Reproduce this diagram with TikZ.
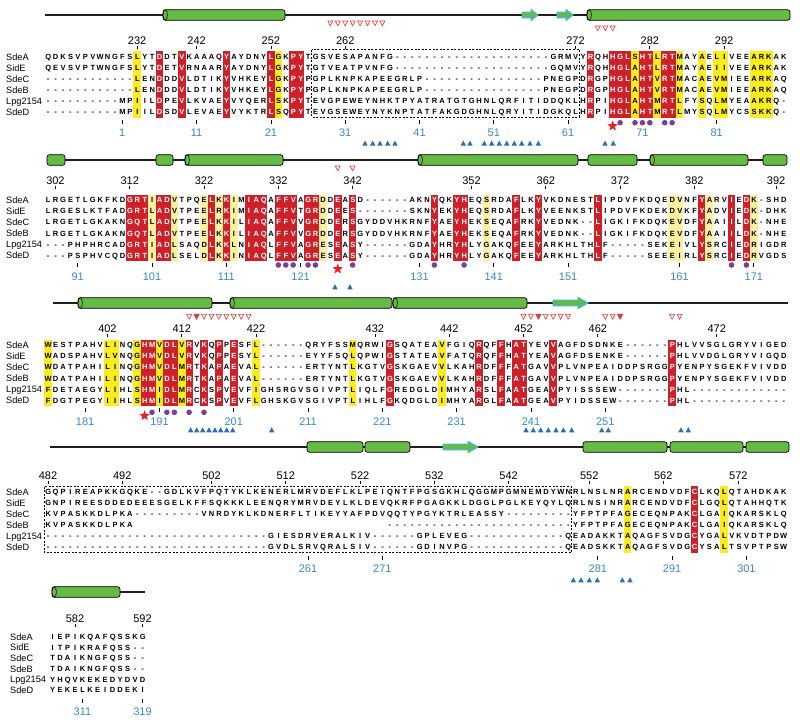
\documentclass[tikz,border=0pt]{standalone}
\usepackage{fontspec}
\setmainfont{Liberation Sans}
\usetikzlibrary{shapes.geometric}
\definecolor{rbox}{HTML}{CE2029}
\definecolor{ybox}{HTML}{FAEC1E}
\definecolor{pbox}{HTML}{FBF0A0}
\definecolor{hgreen}{HTML}{66BB44}
\definecolor{scyan}{HTML}{3FB5E5}
\definecolor{numblue}{HTML}{3B87C4}
\definecolor{tblue}{HTML}{2A6EB8}
\definecolor{dpurple}{HTML}{7B3F98}
\definecolor{tred}{HTML}{E53935}
\definecolor{sred}{HTML}{E8202A}
\definecolor{lineg}{HTML}{1E1E1E}
\newdimen\colw \colw=7.43pt
\newcount\colc
\def\seqline#1{\colc=0 \seqnext#1\relax}
\def\seqnext#1{\ifx#1\relax\else\advance\colc by 1 \seqchar{#1}\expandafter\seqnext\fi}
\def\seqchar#1{\makebox[\colw][c]{\ifcsname rd@\blk @\the\colc\endcsname\color{white}\fi\ifx#1.\else#1\fi}}
\def\blk{1}
\newcommand\regred[2]{\foreach \c in #2{\expandafter\gdef\csname rd@#1@\c\endcsname{}}}
\def\rA{16,19,25,31,34,35,74,77,78,79,81,82,84,85}
\def\yA{13,32,80,83,86,89,91,92,96,97,98}
\def\rB{12,13,14,16,17,23,25,28,29,30,32,33,34,36,37,40,42,53,56,57,64,67,75,89,93,95}
\def\yB{15,18,22,24,26,38,60,85,86,90,96}
\def\rC{14,15,17,18,20,22,24,26,47,59,62,64,65,69,85}
\def\yC{1,9,10,13,16,19,29,42,54}
\def\rD{88}
\def\yD{79,92}
\regred{1}{\rA}
\regred{2}{\rB}
\regred{3}{\rC}
\regred{4}{\rD}
\def\X#1{(48+(#1-1)*7.43)}
\def\Xf#1{(52.5+(#1-1)*7.5)}
\newcommand\hl[4]{\foreach \c in #4{\fill[#3] ({48+(\c-1)*7.43-3.8},#1) rectangle ({48+(\c-1)*7.43+3.8},#2);}}
\newcommand\cyl[3]{\draw[cylst] ({#1},{#3-5.3}) rectangle ({#2},{#3+5.3}); \draw[capst] ({#1+2.2},{#3}) ellipse (2.2pt and 5.3pt);}
\newcommand\boxh[3]{\draw[cylst] ({#1},{#3-5.3}) rectangle ({#2},{#3+5.3});}
\newcommand\strand[4]{\draw[strst] ({#1},{#3-2.8}) -- ({#2-#4},{#3-2.8}) -- ({#2-#4},{#3-5.6}) -- ({#2},{#3}) -- ({#2-#4},{#3+5.6}) -- ({#2-#4},{#3+2.8}) -- ({#1},{#3+2.8}) -- cycle;}
\newcommand\rtri[2]{\draw[rtrist] ({#1-2.5},{#2-2.3}) -- ({#1+2.5},{#2-2.3}) -- ({#1},{#2+2.5}) -- cycle;}
\newcommand\rtrif[2]{\filldraw[rtrifst] ({#1-2.7},{#2-2.5}) -- ({#1+2.7},{#2-2.5}) -- ({#1},{#2+2.7}) -- cycle;}
\newcommand\btri[2]{\fill[btrist] ({#1-2.7},{#2+2.3}) -- ({#1+2.7},{#2+2.3}) -- ({#1},{#2-2.7}) -- cycle;}
\newcommand\pdot[2]{\fill[dotst] ({#1},{#2}) circle (2.8pt);}
\newcommand\knum[4]{\node[knumst] (#1) at ({#2},{#3}) {#4}; \draw[tickst] ({#2},{#3+5.5}) -- ({#2},{#3+9});}
\newcommand\bnum[4]{\draw[tickst] ({#2},{#3-12.7}) -- ({#2},{#3-8.7}); \node[bnumst] (#1) at ({#2},{#3}) {#4};}
\newcommand\names[3]{% prefix, x, base y (spacing 11.1)
  \node[namest] (#1a) at (#2,{#3}) {SdeA};
  \node[namest] (#1b) at (#2,{#3+11.1}) {SidE};
  \node[namest] (#1c) at (#2,{#3+22.2}) {SdeC};
  \node[namest] (#1d) at (#2,{#3+33.3}) {SdeB};
  \node[namest] (#1e) at (#2,{#3+44.4}) {Lpg2154};
  \node[namest] (#1f) at (#2,{#3+55.5}) {SdeD};}
\tikzset{
 seqst/.style={anchor=west,inner sep=0pt,font=\fontsize{7.5}{7.5}\selectfont\bfseries,text height=5.4pt,text depth=0pt},
 namest/.style={anchor=west,inner sep=0pt,font=\fontsize{9.2}{9.2}\selectfont,text height=6.6pt,text depth=0pt},
 knumst/.style={inner sep=0pt,font=\fontsize{11}{11}\selectfont,text height=8pt,text depth=0pt},
 bnumst/.style={inner sep=0pt,font=\fontsize{11}{11}\selectfont,text height=8pt,text depth=0pt,text=numblue},
 tickst/.style={line width=0.8pt,draw=black},
 ssline/.style={line width=1.5pt,draw=lineg},
 cylst/.style={fill=hgreen,draw=black,line width=0.7pt,rounded corners=2.5pt},
 capst/.style={fill=hgreen,draw=black,line width=0.6pt},
 strst/.style={fill=hgreen,draw=scyan,line width=1pt,line join=miter},
 rtrist/.style={draw=tred,fill=white,line width=0.6pt},
 rtrifst/.style={fill=tred,draw=tred,line width=0.5pt},
 btrist/.style={fill=tblue},
 dotst/.style={fill=dpurple},
 starst/.style={star,star points=5,star point ratio=2.4,fill=sred,inner sep=0pt,minimum size=11pt},
 dbox/.style={draw=black,line width=0.7pt,dash pattern=on 2pt off 1.6pt}
}
\begin{document}
\begin{tikzpicture}[x=1pt,y=-1pt]
\useasboundingbox (0,0) rectangle (800,723);
% ================= secondary structure =================
\draw[ssline] (45,15) -- (786,15);
\cyl{163}{285}{15}
\strand{522}{538}{15}{7}
\strand{557}{573}{15}{7}
\cyl{587}{790}{15}
\draw[ssline] (47,160) -- (787,160);
\boxh{47}{65}{160} \boxh{156}{173}{160} \cyl{185}{283}{160} \cyl{418}{578}{160}
\boxh{588}{637}{160} \cyl{650}{748}{160} \boxh{763}{787}{160}
\draw[ssline] (53,303) -- (788,303);
\cyl{78}{212}{303} \cyl{230}{392}{303} \cyl{393}{527}{303}
\strand{553}{588}{303}{10}
\draw[ssline] (50,447) -- (789,447);
\boxh{307}{363}{447} \boxh{365}{410}{447}
\strand{443}{478}{447}{10}
\boxh{583}{667}{447} \boxh{670}{743}{447} \boxh{746}{789}{447}
\draw[ssline] (118,592) -- (145,592);
\cyl{52}{120}{592}
% ================= red triangles =================
\foreach \c in {39,...,46} {\rtri{\X{\c}}{23.3}}
\foreach \c in {75,76,77} {\rtri{\X{\c}}{28.3}}
\foreach \c in {40,42} {\rtri{\X{\c}}{168.3}}
\foreach \c in {20,22,23,24,25,26,27,28,65,66,68,69,70,71,76,77,85,86} {\rtri{\X{\c}}{316.7}}
\foreach \c in {21,67,78} {\rtrif{\X{\c}}{316.7}}
% ================= highlight boxes =================
\hl{51.2}{117.7}{rbox}{\rA}
\hl{51.2}{117.7}{ybox}{\yA}
\hl{194.5}{261}{rbox}{\rB}
\hl{194.5}{261}{pbox}{\yB}
\hl{339.5}{406}{rbox}{\rC}
\hl{339.5}{406}{ybox}{\yC}
\hl{486.2}{552.7}{rbox}{\rD}
\hl{486.2}{552.7}{ybox}{\yD}
% dashed boxes
\draw[dbox] ({\X{36.5}},49.5) rectangle ({\X{72.5}},117);
\draw[dbox] ({\X{0.5}},486.5) rectangle ({\X{71.5}},552.5);
% ================= block 1 =================
\names{n1}{6}{56.7}
\def\blk{1}
\node[seqst] (s1a) at (44.3,56.7) {\seqline{QDKSVPVWNGFSLYTDDTVKAAAQYAYDNYLGKPYTGSVESAPANFG---------------------GRMVYRQHHGLSHTLRTMAYAELIVEEARKAK}};
\node[seqst] (s1b) at (44.3,67.8) {\seqline{QEVSVPTWNGFSLYTDETVRNAARYAYDNYLGKPYTGTVEATPVNFG---------------------GQMVYRQHHGLAHTLRTMAYAEIIVEEARKAK}};
\node[seqst] (s1c) at (44.3,78.9) {\seqline{------------LENDDDVLDTIKYVHKEYLGKPYPGPLKNPKAPEEGRLP----------------PNEGPDRGPHGLAHTVRTMACAEVMIEEARKAQ}};
\node[seqst] (s1d) at (44.3,90.0) {\seqline{------------LENDDDVLDTIKYVHKEYLGKPYPGPLKNPKAPEEGRLP----------------PNEGPDRGPHGLAHTVRTMACAEVMIEEARKAQ}};
\node[seqst] (s1e) at (44.3,101.1) {\seqline{----------MPIILDPEVLKVAEYVYQERLSKPYTEVGPEWEYNHKTPYATRATGTGHNLQRFITIDDQKLHRPIHGLAHTMRTLFYSQLMYEAAKRQ-}};
\node[seqst] (s1f) at (44.3,112.2) {\seqline{----------MPIILDSDVLEVAEYVYKTRLSQPYTEVGSEWEYNYKNPTATFAKGDGHNLQRYITIDGKQLHRPIHGLAHTMRTLMYSQLMYCSSKKQ-}};
\foreach \c/\t in {13/232,21/242,31/252,41/262,72/272,82/282,92/292} {\knum{k\t}{\X{\c}}{40}{\t}}
\foreach \c/\t in {11/1,21/11,31/21,41/31,51/41,61/51,71/61,81/71,91/81} {\bnum{b\t}{\X{\c}}{132.7}{\t}}
\foreach \c in {78,80,81,82,84,85} {\pdot{\X{\c}}{122.7}}
\node[starst] (st1) at ({\X{77}},126) {};
\foreach \x in {365,372.7,380,387.7,395,463.3,470,484.3,491.7,499.3,506.7,514.3,521.7,530,538.3,605,613.3} {\btri{\x}{143.3}}
% ================= block 2 =================
\names{n2}{6}{200}
\def\blk{2}
\node[seqst] (s2a) at (44.3,200) {\seqline{LRGETLGKFKDGRTIADVTPQELKKIMIAQAFFVAGRDDEASD------AKNYQKYHEQSRDAFLKYVKDNESTLIPDVFKDQEDVNFYARVIEDK-SHD}};
\node[seqst] (s2b) at (44.3,211.1) {\seqline{LRGESLKTFADGRTLADVTPEELRKIMIAQAFFVTGRDDEES-------SKNYEKYHEQSRDAFLKYVEENKSTLIPDVFKDEKDVKFYADVIEDK-DHK}};
\node[seqst] (s2c) at (44.3,222.2) {\seqline{LRGETLGKAKNGQTLADVTPEELKKILIAQAFFVVGRDDERSGYDDVHKRNFYAEYHEKSEQAFRKYVEDNK--LIGKIFKDQKEVDFYAAIILDK-NHE}};
\node[seqst] (s2d) at (44.3,233.3) {\seqline{LRGETLGKAKNGQTLADVTPEELKKILIAQAFFVVGRDDERSGYDDVHKRNFYAEYHEKSEQAFRKYVEDNK--LIGKIFKDQKEVDFYAAIILDK-NHE}};
\node[seqst] (s2e) at (44.3,244.4) {\seqline{---PHPHRCADGRTIADLSAQDLKKLNIAQLFFVAGRESEASY------GDAYHRYHLYGAKQFEEYARKHLTHLF-----SEKEIVLYSRCIEDRIGDR}};
\node[seqst] (s2f) at (44.3,255.5) {\seqline{---PSPHVCQDGRTIADLSELDLKKINIAQLFFVAGRESEASY------GDAYHRYHLYGAKQFEEYARKHLTHLF-----SEEEIRLYSRCIEDRVGDS}};
\foreach \c/\t in {2/302,12/312,22/322,32/332,42/342,58/352,68/362,78/372,88/382,99/392} {\knum{k\t}{\X{\c}}{180}{\t}}
\foreach \c/\t in {5/91,15/101,25/111,35/121,51/131,61/141,71/151,86/161,96/171} {\bnum{b\t}{\X{\c}}{276}{\t}}
\foreach \c in {32,33,34,36,37,42,53,57,93,95} {\pdot{\X{\c}}{265}}
\node[starst] (st2) at ({\X{40}},269) {};
\foreach \x in {335,350} {\btri{\x}{287}}
% ================= block 3 =================
\names{n3}{6}{345}
\def\blk{3}
\node[seqst] (s3a) at (44.3,345) {\seqline{WESTPAHVLINQGHMVDLVRVKQPPESFL------QRYFSSMQRWIGSQATEAVFGIQRQFFHATYEVVAGFDSDNKE------PHLVVSGLGRYVIGED}};
\node[seqst] (s3b) at (44.3,356.1) {\seqline{WADSPAHVLVNQGHMVDLVRVKQPPESYL------EYYFSQLQPWIGSTATEAVFATQRQFFHATYEAVAGFDSENKE------PHLVVDGLGRYVIGQD}};
\node[seqst] (s3c) at (44.3,367.2) {\seqline{WDATPAHILINQGHMVDLMRTKAPAEVAL------ERTYNTLKGTVGSKGAEVVLKAHRDFFFATGAVVPLVNPEAIDDPSRGGPYENPYSGEKFVIVDD}};
\node[seqst] (s3d) at (44.3,378.3) {\seqline{WDATPAHILINQGHMVDLMRTKAPAEVAL------ERTYNTLKGTVGSKGAEVVLKAHRDFFFATGAVVPLVNPEAIDDPSRGGPYENPYSGEKFVIVDD}};
\node[seqst] (s3e) at (44.3,389.4) {\seqline{FDETAEGYLIHLSHMIDLMRCKSPVEVFIGHSRGVSGIVPTLIQLFGREDGLDIMHYARSLFAATGEAVPYISSSEW-------PHL-------------}};
\node[seqst] (s3f) at (44.3,400.5) {\seqline{FDGTPEGYIIHLSHMIDLMRCKSPVEVFLGHSKGVSGIVPTLIHLFGKQDGLDIMHYARGLFAATGEAVPYIDSSEW-------PHL-------------}};
\foreach \c/\t in {9/402,19/412,29/422,45/432,55/442,65/452,75/462,91/472} {\knum{k\t}{\X{\c}}{328.3}{\t}}
\foreach \c/\t in {6/181,16/191,26/201,36/211,46/221,56/231,66/241,76/251} {\bnum{b\t}{\X{\c}}{421}{\t}}
\foreach \c in {15,17,18,20,22} {\pdot{\X{\c}}{412.3}}
\node[starst] (st3) at ({\X{14}},415.7) {};
\foreach \x in {190.7,196.7,202.7,209,215,220.7,226.7,232.7,271.7,526,533.3,540.7,548.3,556,563.3,571.7,601.7,608.3,681,688.3} {\btri{\x}{430}}
% ================= block 4 =================
\names{n4}{6}{491.7}
\def\blk{4}
\node[seqst] (s4a) at (44.3,491.7) {\seqline{GQPIREAPKKGQKE--GDLKVFPQTYKLKENERLMRVDEFLKLPEIQNTFPGSGKHLQGGMPGMNEMDYWNRLNSLNRARCENDVDFCLKQLQTAHDKAK}};
\node[seqst] (s4b) at (44.3,502.8) {\seqline{GNPIREESDDEDEEESGELKFFSQKKKLEENQRYMRVDEYLKLDEVQKRFPGAGKKLDGGLPGLKEYQYLQRLNSINRARCENDVDFCLGQLQTAHHQTK}};
\node[seqst] (s4c) at (44.3,513.9) {\seqline{KVPASKKDLPKA---------VNRDYKLKDNERFLTIKEYYAFPDVQQTYPGYKTRLEASSY---------YFPTPFAGECEQNPAKCLGAIQKARSKLQ}};
\node[seqst] (s4d) at (44.3,525.0) {\seqline{KVPASKKDLPKA..................................-------------------------YFPTPFAGECEQNPAKCLGAIQKARSKLQ}};
\node[seqst] (s4e) at (44.3,536.1) {\seqline{------------------------------GIESDRVERALKIV------GPLEVEG-------------QEADAKKTAQAGFSVDGCYGALVKVDTPDW}};
\node[seqst] (s4f) at (44.3,547.2) {\seqline{------------------------------GVDLSRVQRALSIV------GDINVPG-------------QEADSKKTAQAGFSVDGCYSALTSVPTPSW}};
\foreach \c/\t in {1/482,11/492,23/502,33/512,43/522,53/532,63/542} {\knum{k\t}{\X{\c}}{475}{\t}}
\foreach \x/\t in {589.3/552,663.3/562,738.3/572} {\knum{k\t}{\x}{475}{\t}}
\foreach \c/\t in {36/261,46/271,75/281,85/291,95/301} {\bnum{b\t}{\X{\c}}{568.3}{\t}}
\foreach \x in {573.3,581,589.3,597.3,622.3,630} {\btri{\x}{580}}
% ================= block 5 =================
\node[namest] (n5a) at (10,636.7) {SdeA};
\node[namest] (n5b) at (10,647.4) {SidE};
\node[namest] (n5c) at (10,658.1) {SdeC};
\node[namest] (n5d) at (10,668.8) {SdeB};
\node[namest] (n5e) at (10,679.5) {Lpg2154};
\node[namest] (n5f) at (10,690.2) {SdeD};
\def\blk{5}
\colw=7.5pt
\node[seqst] (s5a) at (48.75,636.7) {\seqline{IEPIKQAFQSSKG}};
\node[seqst] (s5b) at (48.75,647.4) {\seqline{ITPIKRAFQSS--}};
\node[seqst] (s5c) at (48.75,658.1) {\seqline{TDAIKNGFQSS--}};
\node[seqst] (s5d) at (48.75,668.8) {\seqline{TDAIKNGFQSS--}};
\node[seqst] (s5e) at (48.75,679.5) {\seqline{YHQVKEKEDYDVD}};
\node[seqst] (s5f) at (48.75,690.2) {\seqline{YEKELKEIDDEKI}};
\knum{k582}{\Xf{4}}{618.3}{582}
\knum{k592}{\Xf{13}}{618.3}{592}
\bnum{b311}{\Xf{5}}{711.7}{311}
\bnum{b319}{\Xf{13}}{711.7}{319}
\end{tikzpicture}
\end{document}
